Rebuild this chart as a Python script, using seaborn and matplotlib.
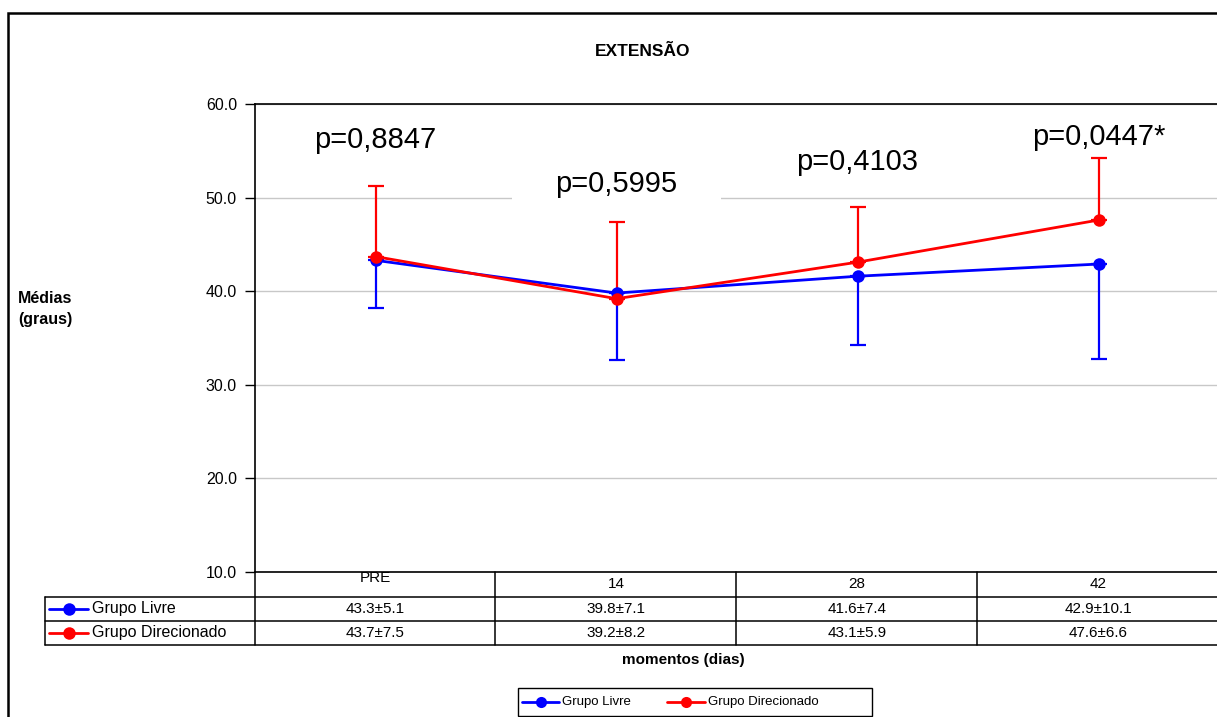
import pandas as pd
import matplotlib.pyplot as plt
import seaborn as sns
from matplotlib.lines import Line2D
from matplotlib.patches import Rectangle

# Data
momentos = ['PRE', '14', '28', '42']
livre_media = [43.3, 39.8, 41.6, 42.9]
livre_dp = [5.1, 7.1, 7.4, 10.1]
direc_media = [43.7, 39.2, 43.1, 47.6]
direc_dp = [7.5, 8.2, 5.9, 6.6]
p_valores = ['p=0,8847', 'p=0,5995', 'p=0,4103', 'p=0,0447*']
p_alturas = [56.2, 51.5, 53.8, 56.5]
grupos = ['Grupo Livre', 'Grupo Direcionado']
cores = ['#0000ff', '#ff0000']

df = pd.DataFrame({
    'momento': momentos * 2,
    'media': livre_media + direc_media,
    'grupo': [grupos[0]] * 4 + [grupos[1]] * 4,
})

sns.set_style('white')
plt.rcParams['font.family'] = ['Liberation Sans', 'DejaVu Sans']
plt.rcParams['text.color'] = 'black'
plt.rcParams['ytick.color'] = 'black'
plt.rcParams['ytick.labelcolor'] = 'black'

W, H = 1217, 717
fig = plt.figure(figsize=(W / 100, H / 100), dpi=100)


def fx(x):
    return x / W


def fy(y):
    return 1 - y / H


ax = fig.add_axes([fx(255), fy(572), 964 / W, 468 / H])

ax.grid(axis='y', color='#c8c8c8', linewidth=1)
ax.set_axisbelow(True)

sns.lineplot(data=df, x='momento', y='media', hue='grupo', palette=cores,
             marker='o', markersize=9, markeredgewidth=0, linewidth=2,
             sort=False, legend=False, ax=ax, zorder=4)

pos = list(range(len(momentos)))
ax.errorbar(pos, livre_media, yerr=[livre_dp, [0] * 4], fmt='none',
            ecolor=cores[0], elinewidth=1.6, capsize=6, capthick=1.6, zorder=3)
ax.errorbar(pos, direc_media, yerr=[[0] * 4, direc_dp], fmt='none',
            ecolor=cores[1], elinewidth=1.6, capsize=6, capthick=1.6, zorder=3)

for i, (txt, yy) in enumerate(zip(p_valores, p_alturas)):
    kw = {}
    if i == 1:
        kw['bbox'] = dict(boxstyle='square,pad=1.5', fc='white', ec='none')
    ax.text(i, yy, txt, ha='center', va='center', fontsize=21, zorder=1.5, **kw)

ax.set_xlim(-0.5, 3.5)
ax.set_ylim(10, 60)
ax.set_yticks([10, 20, 30, 40, 50, 60])
ax.set_yticklabels([f'{v:.1f}' for v in [10, 20, 30, 40, 50, 60]], fontsize=11.5)
ax.set_xticks([])
ax.set_xlabel('')
ax.set_ylabel('')
ax.tick_params(axis='y', direction='out', length=7, width=1, color='black', pad=6, left=True)
for s in ['left', 'top', 'bottom']:
    ax.spines[s].set_color('black')
    ax.spines[s].set_linewidth(1.2)
ax.spines['right'].set_visible(False)

# Title and axis labels
fig.text(fx(643), fy(52), 'EXTENSÃO', ha='center', va='center', fontsize=12.5, fontweight='bold')
fig.text(fx(18), fy(309), 'Médias\n(graus)', ha='left', va='center', fontsize=11.5,
         fontweight='bold', linespacing=1.5)
fig.text(fx(683), fy(660), 'momentos (dias)', ha='center', va='center', fontsize=11,
         fontweight='bold')

# Data table below the axis
def hline(y, x0, x1):
    fig.add_artist(Line2D([fx(x0), fx(x1)], [fy(y), fy(y)], color='black', lw=1.1))


def vline(x, y0, y1):
    fig.add_artist(Line2D([fx(x), fx(x)], [fy(y0), fy(y1)], color='black', lw=1.1))


for y in [597, 621, 645]:
    hline(y, 45, W)
vline(45, 597, 645)
for x in [255, 495, 736, 977]:
    vline(x, 572, 645)

col_x = [375, 616, 857, 1098]
for i, m in enumerate(momentos):
    fig.text(fx(col_x[i]), fy(578 if m == 'PRE' else 584), m, ha='center', va='center', fontsize=11)

linhas = [(livre_media, livre_dp, 609), (direc_media, direc_dp, 633)]
for g, (med, dp, yy) in enumerate(linhas):
    fig.add_artist(Line2D([fx(49), fx(88)], [fy(yy), fy(yy)], color=cores[g], lw=2))
    fig.add_artist(Line2D([fx(68.5)], [fy(yy)], color=cores[g], marker='o',
                          markersize=9, markeredgewidth=0))
    fig.text(fx(92), fy(yy), grupos[g], ha='left', va='center', fontsize=11.5)
    for i in range(len(momentos)):
        fig.text(fx(col_x[i]), fy(yy), f'{med[i]:.1f}±{dp[i]:.1f}', ha='center',
                 va='center', fontsize=11)

# Legend box at bottom
fig.add_artist(Rectangle((fx(518), fy(716)), (872 - 518) / W, 28 / H, transform=fig.transFigure,
                         fill=False, ec='black', lw=1))
leg_x = [(522, 567), (667, 713)]
for g in range(2):
    x0, x1 = leg_x[g]
    fig.add_artist(Line2D([fx(x0), fx(x1 - 8)], [fy(702), fy(702)], color=cores[g], lw=2))
    fig.add_artist(Line2D([fx((x0 + x1 - 8) / 2)], [fy(702)], color=cores[g], marker='o',
                          markersize=8, markeredgewidth=0))
    fig.text(fx(x1 - 5), fy(702), grupos[g], ha='left', va='center', fontsize=9.5)

# Outer chart border
fig.add_artist(Rectangle((fx(8), -0.1), 1.1, fy(13) + 0.1, transform=fig.transFigure,
                         fill=False, ec='black', lw=1.8))

plt.savefig('out.png', dpi=100)
